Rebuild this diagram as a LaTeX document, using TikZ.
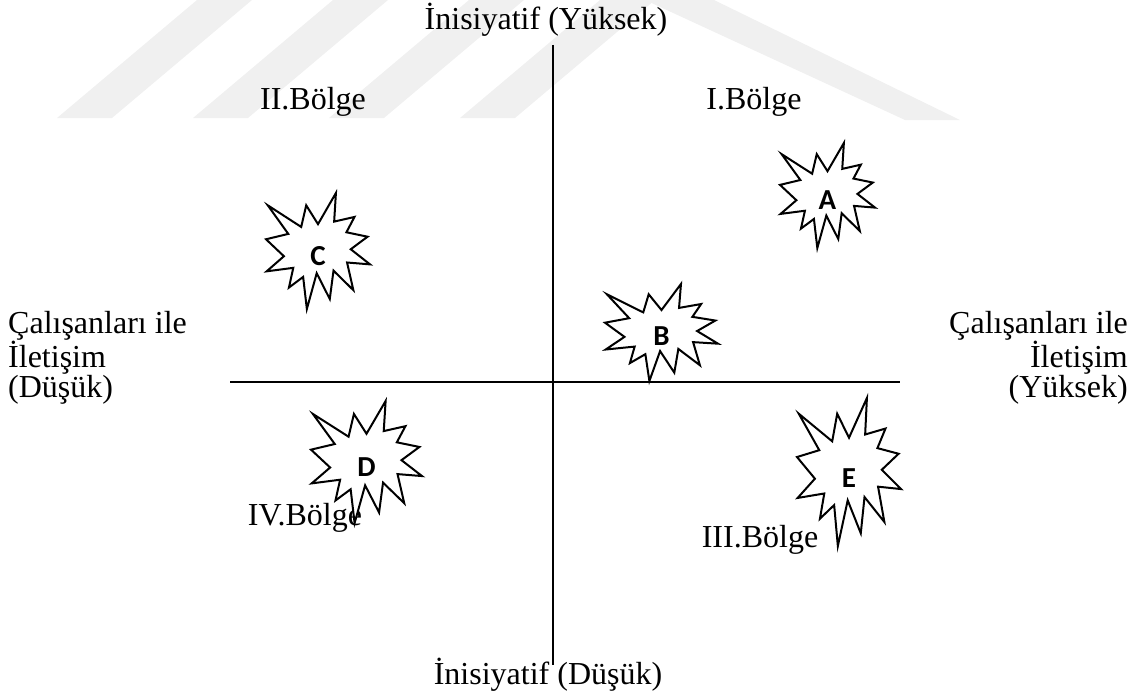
\documentclass[tikz,border=0pt]{standalone}
\usepackage{fontspec}
\setmainfont{Liberation Serif}
\newfontfamily\sealfont{Carlito}
\tikzset{
  axisline/.style={line width=1.5pt, black},
  sealline/.style={line width=2pt, black, fill=white, line join=miter},
  sealtext/.style={font=\sealfont\bfseries\fontsize{29}{29}\selectfont, inner sep=0pt},
  lbl/.style={font=\fontsize{32}{26.5}\selectfont, inner sep=0pt},
  wm/.style={fill=black!6, draw=none}
}
\newcommand{\sealshape}[6]{%
  \draw[sealline, shift={(#1,#2)}, xscale={#3/216}, yscale={#4/216}]
    (108,58) -- (145.22,0) -- (141.55,53.25) -- (183.80,44.57) -- (167.02,73.15)
    -- (210.97,81.37) -- (176.07,104.75) -- (216,132.90) -- (168.37,129.42)
    -- (181.45,180.95) -- (140.20,144.57) -- (132.47,197.37) -- (105.32,149.35)
    -- (84.85,216) -- (77.15,156.27) -- (47.62,176.17) -- (56.67,139.37)
    -- (1.35,145.87) -- (37.22,117.75) -- (0,86.15) -- (46.27,76.17)
    -- (3.70,22.95) -- (73.12,63.20) -- (83.52,22.95) -- cycle;
  \node[sealtext] (#5) at ({#1+0.5*#3},{#2+0.54*#4}) {#6};
}
\begin{document}
\begin{tikzpicture}[x=1pt,y=-1pt]
\useasboundingbox (0,0) rectangle (1136,693);
% watermark stripes
\foreach \xb in {57,193,329,460}{
  \fill[wm] (\xb,118) -- ({\xb+55},118) -- ({\xb+195},0) -- ({\xb+140},0) -- cycle;
}
\fill[wm] (645,0) -- (714,0) -- (960,120) -- (905,120) -- cycle;
% axes
\coordinate (top) at (553,45);
\coordinate (bottom) at (553,665);
\coordinate (left) at (230,382);
\coordinate (right) at (900,382);
\draw[axisline] (top) -- (bottom);
\draw[axisline] (left) -- (right);
% axis labels
\node[lbl] (ytop) at (546,20) {İnisiyatif (Yüksek)};
\node[lbl] (ybot) at (548,675) {İnisiyatif (Düşük)};
\node[lbl, align=left, anchor=west] (xleft) at (8,358) {Çalışanları ile\\İletişim\\(Düşük)};
\node[lbl, align=right, anchor=east] (xright) at (1128,358) {Çalışanları ile\\İletişim\\(Yüksek)};
% region labels
\node[lbl] (r2) at (313,102) {II.Bölge};
\node[lbl] (r1) at (754,102) {I.Bölge};
\node[lbl] (r4) at (305,518) {IV.Bölge};
\node[lbl] (r3) at (760,540) {III.Bölge};
% seals
\sealshape{780}{143}{95}{105}{A}{A}
\sealshape{605}{284}{113}{97}{B}{B}
\sealshape{266}{193}{104}{116}{C}{C}
\sealshape{311}{401}{111}{122}{D}{D}
\sealshape{797}{398}{104}{148}{E}{E}
\end{tikzpicture}
\end{document}
